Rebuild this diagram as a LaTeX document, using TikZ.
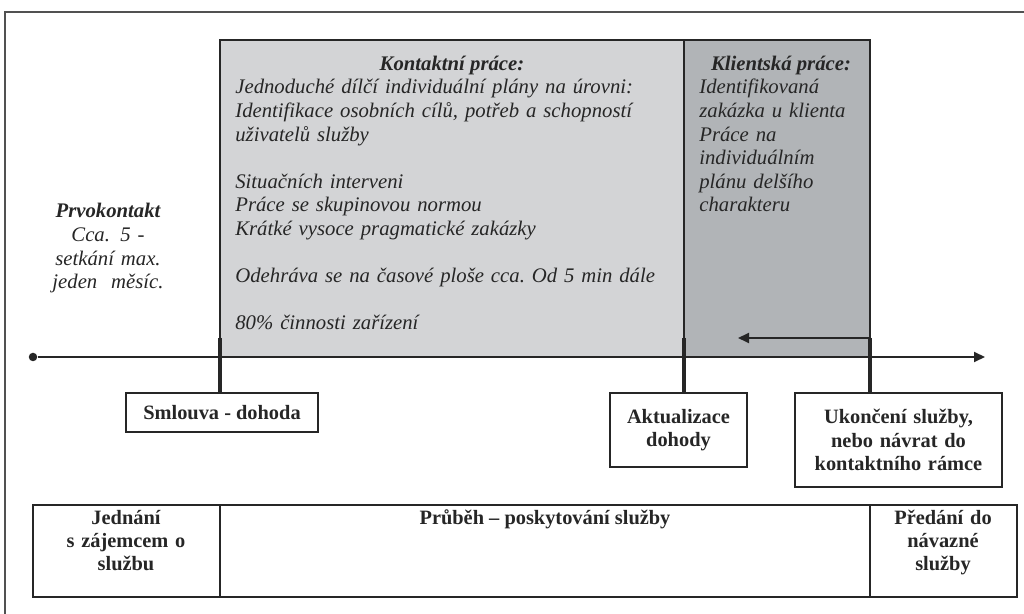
\documentclass[tikz,border=0pt]{standalone}
\usepackage{fontspec}
\setmainfont{Liberation Serif}
\usetikzlibrary{arrows.meta}

\definecolor{kontakt}{HTML}{D3D4D6}
\definecolor{klient}{HTML}{B1B4B7}
\definecolor{ink}{HTML}{262626}

\newcommand{\italfont}{\fontsize{11.8}{13.4}\selectfont\itshape}
\newcommand{\boldfont}{\fontsize{11.6}{13.2}\selectfont\bfseries}

\tikzset{
  frame/.style={draw=ink!80, line width=0.7pt},
  area/.style={draw=ink, line width=0.8pt},
  timeline/.style={draw=ink, line width=1.1pt},
  tick/.style={draw=ink, line width=1.8pt},
  labelbox/.style={draw=ink, line width=0.7pt, fill=white, font=\boldfont, align=center, inner sep=0pt},
  bodytext/.style={inner sep=0pt, font=\italfont, align=left},
  celltext/.style={inner sep=0pt, font=\boldfont, align=center},
  arrowtip/.style={-{Triangle[length=2.2mm,width=2mm]}}
}

\begin{document}
\begin{tikzpicture}[x=0.02cm, y=-0.02cm, color=ink]

\useasboundingbox (0,0) rectangle (1024,614) ;

\draw [frame] (5,614) -- (5,12) -- (1024,12) ;

\draw [area, fill=kontakt] (220,40) rectangle (684,357) ;
\draw [area, fill=klient] (684,40) rectangle (870,357) ;

\node [inner sep=0pt, font=\italfont\bfseries, anchor=base] (ktitle) at (452,71) {Kontaktní práce:} ;
\node [bodytext, text width=8.8cm, anchor=base west] (kbody) at (235,94)
  {Jednoduché dílčí individuální plány na úrovni:\\
   Identifikace osobních cílů, potřeb a schopností\\
   uživatelů služby\\[\baselineskip]
   Situačních interveni\\
   Práce se skupinovou normou\\
   Krátké vysoce pragmatické zakázky\\[\baselineskip]
   Odehráva se na časové ploše cca.\ Od 5 min dále\\[\baselineskip]
   80\% činnosti zařízení} ;

\node [inner sep=0pt, font=\italfont\bfseries, anchor=base] (ctitle) at (781,71) {Klientská práce:} ;
\node [bodytext, text width=3.6cm, anchor=base west] (cbody) at (699,94)
  {Identifikovaná\\ zakázka u klienta\\ Práce na\\ individuálním\\ plánu delšího\\ charakteru} ;

\node [bodytext, text width=3.2cm, align=center, anchor=base] (prvo) at (108,218)
  {\textbf{Prvokontakt}\\ Cca. 5 -\\ setkání max.\\ jeden\ \ měsíc.} ;

\node [fill=ink, circle, inner sep=0pt, minimum size=0.17cm] (start) at (33,357) {} ;
\coordinate (end) at (985,357) ;
\draw [timeline, arrowtip] (start) -- (end) ;

\node [labelbox, minimum width=3.84cm, minimum height=0.78cm] (smlouva) at (222,412.5) {Smlouva - dohoda} ;
\node [labelbox, text width=2.6cm, minimum width=2.74cm, minimum height=1.48cm] (aktual) at (678.5,430) {Aktualizace\\ dohody} ;
\node [labelbox, text width=4cm, minimum width=4.14cm, minimum height=1.88cm] (ukonc) at (898.5,440) {Ukončení služby,\\ nebo návrat do\\ kontaktního rámce} ;

\coordinate (t1) at (220,338) ;
\coordinate (t2) at (684,338) ;
\coordinate (t3) at (870,338) ;
\coordinate (back) at (738,338) ;

\draw [tick] (t1) -- (t1 |- smlouva.north) ;
\draw [tick] (t2) -- (t2 |- aktual.north) ;
\draw [tick] (t3) -- (t3 |- ukonc.north) ;
\draw [timeline, arrowtip] (t3) -- (back) ;

\draw [area, line width=0.7pt] (33,505) rectangle (1017,597) ;
\draw [area, line width=0.7pt] (220,505) -- (220,597) ;
\draw [area, line width=0.7pt] (870,505) -- (870,597) ;

\node [celltext, text width=3.4cm, anchor=base] (jednani) at (126,524) {Jednání\\ s zájemcem o\\ službu} ;
\node [celltext, anchor=base] (prubeh) at (545,524) {Průběh -- poskytování služby} ;
\node [celltext, text width=3.4cm, anchor=base] (predani) at (943,524) {Předání do\\ návazné\\ služby} ;

\end{tikzpicture}
\end{document}
